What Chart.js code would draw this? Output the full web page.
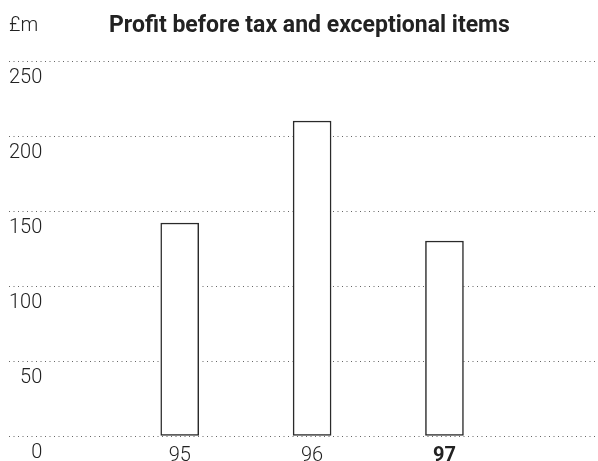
<!DOCTYPE html>
<html>
<head>
<meta charset="utf-8">
<script src="https://cdn.jsdelivr.net/npm/chart.js@4/dist/chart.umd.min.js"></script>
<style>
  html, body { margin: 0; padding: 0; background: #fff; }
</style>
</head>
<body>
<canvas id="chart-profit" width="598" height="461"></canvas>
<script>
// Данные: прибыль до налогов и исключительных статей, £m
const years = [95, 96, 97];
const profit = [142, 210, 130];
const yTicks = [0, 50, 100, 150, 200, 250];
const currentYear = 97;
const unitLabel = '£m';
const chartTitle = 'Profit before tax and exceptional items';

// Подписи сверху: единицы и заголовок
const headerPlugin = {
    id: 'header',
    afterDraw(chart) {
        const c = chart.ctx;
        c.save();
        c.fillStyle = '#222';
        c.textBaseline = 'alphabetic';
        c.font = '300 20px Roboto';
        c.fillText(unitLabel, 9, 31);
        c.font = 'bold 23px "Liberation Sans Narrow", Roboto, sans-serif';
        c.fillText(chartTitle, 109, 32);
        c.restore();
    }
};

const ctx = document.getElementById('chart-profit').getContext('2d');

const chart = new Chart(ctx, {
    type: 'bar',
    data: {
        datasets: [{
            data: years.map((y, i) => ({ x: y, y: profit[i] })),
            backgroundColor: '#fff',
            borderColor: '#2a2a2a',
            borderWidth: 1.5,
            borderSkipped: false,
            barThickness: 38
        }]
    },
    options: {
        responsive: false,
        animation: false,
        devicePixelRatio: 1,
        layout: { padding: { top: 61, left: 9, right: 0, bottom: 0 } },
        plugins: {
            legend: { display: false },
            tooltip: { enabled: false }
        },
        scales: {
            x: {
                type: 'linear',
                offset: false,
                min: 93.71,
                max: 98.16,
                grid: { display: false, offset: false },
                border: { display: false },
                afterBuildTicks: s => { s.ticks = years.map(v => ({ value: v })); },
                afterFit: s => { s.height = 25; },
                ticks: {
                    padding: 0,
                    color: '#222',
                    callback: v => String(v),
                    font: c => ({
                        family: 'Roboto',
                        size: 20,
                        weight: c.tick && c.tick.value === currentYear ? 'bold' : '300'
                    })
                }
            },
            y: {
                min: 0,
                max: 250,
                afterBuildTicks: s => { s.ticks = yTicks.map(v => ({ value: v })); },
                afterFit: s => { s.width = 0; },
                grid: { color: '#666', lineWidth: 1, drawTicks: false },
                border: { display: false, dash: [1, 3.5] },
                ticks: {
                    mirror: true,
                    crossAlign: 'far',
                    padding: 0,
                    labelOffset: 17,
                    color: '#222',
                    font: { family: 'Roboto', size: 20, weight: '300' }
                }
            }
        }
    },
    plugins: [headerPlugin]
});
</script>
</body>
</html>
